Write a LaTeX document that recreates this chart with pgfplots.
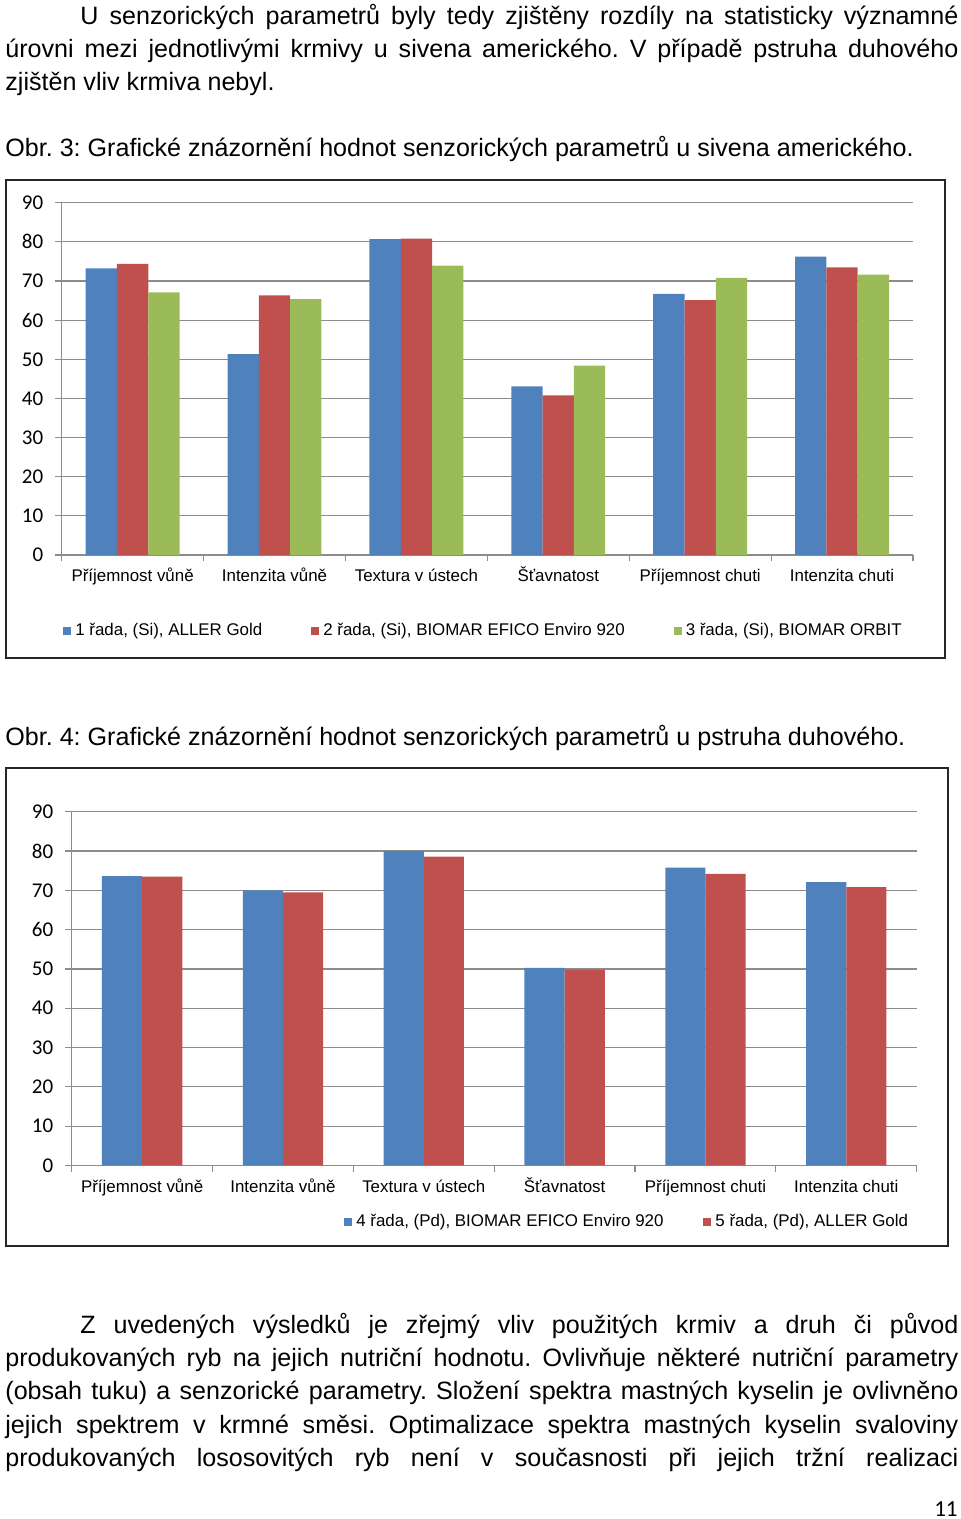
\documentclass[border=0pt]{standalone}
\usepackage{fontspec}
\setmainfont{Liberation Sans}
\newfontfamily\calibri{Carlito}
\usepackage{pgfplots}
\pgfplotsset{compat=1.18}
\definecolor{sblue}{HTML}{4F81BD}
\definecolor{sred}{HTML}{C0504D}
\definecolor{sgreen}{HTML}{9BBB59}
\definecolor{gridgray}{HTML}{8C8C8C}
\newcommand\bodyfont{\fontsize{12.55pt}{15pt}\selectfont}
\newcommand\chartfont{\fontsize{8.45pt}{10pt}\selectfont}
\frenchspacing

\pgfplotstableread{
x blue red green
0 73.2 74.4 67.1
1 51.3 66.3 65.4
2 80.7 80.8 73.9
3 43.1 40.8 48.4
4 66.7 65.1 70.8
5 76.2 73.5 71.6
}\siven
\pgfplotstableread{
x blue red
0 73.6 73.5
1 70.0 69.5
2 80.0 78.6
3 50.25 49.8
4 75.8 74.2
5 72.1 70.8
}\pstruh

\pgfplotsset{
 mychart/.style={
  scale only axis,
  ybar=0pt,
  ymin=0, ymax=90, ytick={0,10,...,90},
  xmin=-0.5, xmax=5.5,
  xtick={-0.5,0.5,1.5,2.5,3.5,4.5,5.5},
  xticklabels={},
  extra x ticks={0,1,2,3,4,5},
  extra x tick labels={Příjemnost vůně, Intenzita vůně, Textura v ústech, Šťavnatost, Příjemnost chuti, Intenzita chuti},
  extra x tick style={tick style={draw=none}},
  axis x line*=bottom, axis y line*=left,
  axis line style={gridgray, line width=0.6pt, -},
  ymajorgrids, grid style={gridgray, line width=0.6pt},
  tick align=outside,
  tick style={gridgray, line width=0.6pt},
  major tick length=3.2pt,
  /pgf/number format/assume math mode=true,
  yticklabel style={font=\calibri\fontsize{10.5pt}{12pt}\selectfont, xshift=-2.5pt},
  xticklabel style={font=\chartfont, anchor=north, text height=6.2pt, text depth=1.8pt, yshift=-0.5pt},
  legend columns=-1,
  legend image code/.code={\fill[##1,draw=none] (0pt,-2pt) rectangle (4pt,2pt);},
  legend style={draw=none, fill=none, inner sep=0pt, font=\chartfont},
 }
}

\begin{document}
\begin{tikzpicture}[x=0.5pt,y=0.5pt]
\path[use as bounding box] (0,0) rectangle (960,-1519);
% top paragraph
\node[anchor=base west, inner sep=0pt, font=\bodyfont] at (80,-25) {\makebox[439pt][s]{U senzorických parametrů byly tedy zjištěny rozdíly na statisticky významné}};
\node[anchor=base west, inner sep=0pt, font=\bodyfont] at (5,-58) {\makebox[476.5pt][s]{úrovni mezi jednotlivými krmivy u sivena amerického. V případě pstruha duhového}};
\node[anchor=base west, inner sep=0pt, font=\bodyfont] at (5,-91) {zjištěn vliv krmiva nebyl.};
\node[anchor=base west, inner sep=0pt, font=\bodyfont] at (5,-157) {Obr. 3: Grafické znázornění hodnot senzorických parametrů u sivena amerického.};
\node[anchor=base west, inner sep=0pt, font=\bodyfont] at (5,-745) {Obr. 4: Grafické znázornění hodnot senzorických parametrů u pstruha duhového.};
% bottom paragraph
\node[anchor=base west, inner sep=0pt, font=\bodyfont] at (80,-1333) {\makebox[439pt][s]{Z~uvedených výsledků je zřejmý vliv použitých krmiv a druh či původ}};
\node[anchor=base west, inner sep=0pt, font=\bodyfont] at (5,-1366) {\makebox[476.5pt][s]{produkovaných ryb na jejich nutriční hodnotu. Ovlivňuje některé nutriční parametry}};
\node[anchor=base west, inner sep=0pt, font=\bodyfont] at (5,-1399) {\makebox[476.5pt][s]{(obsah tuku) a senzorické parametry. Složení spektra mastných kyselin je ovlivněno}};
\node[anchor=base west, inner sep=0pt, font=\bodyfont] at (5,-1433) {\makebox[476.5pt][s]{jejich spektrem v krmné směsi. Optimalizace spektra mastných kyselin svaloviny}};
\node[anchor=base west, inner sep=0pt, font=\bodyfont] at (5,-1466) {\makebox[476.5pt][s]{produkovaných lososovitých ryb není v současnosti při jejich tržní realizaci}};
\node[anchor=base east, inner sep=0pt, font=\calibri\fontsize{11.5pt}{13pt}\selectfont] at (958,-1516) {11};
% frames
\draw[line width=1pt, black!85] (6,-180) rectangle (945,-658);
\draw[line width=1pt, black!85] (6,-768) rectangle (948,-1246);
\coordinate (A1) at (61.7,-555);
\coordinate (A2) at (71.7,-1165.4);

\begin{axis}[mychart, at={(A1)}, anchor=south west,
  width=425.65pt, height=176.15pt, bar width=15.65pt,
  legend style={at={(0.0015,-0.2157)}, anchor=west,
     /tikz/every even column/.append style={column sep=22.5pt}}]
\addplot[fill=sblue, draw=none] table[x=x, y=blue] {\siven};
\addplot[fill=sred, draw=none] table[x=x, y=red] {\siven};
\addplot[fill=sgreen, draw=none] table[x=x, y=green] {\siven};
\legend{{1 řada, (Si), ALLER Gold}, {2 řada, (Si), BIOMAR EFICO Enviro 920}, {3 řada, (Si), BIOMAR ORBIT}}
\end{axis}

\begin{axis}[mychart, at={(A2)}, anchor=south west,
  width=422.5pt, height=176.85pt, bar width=20.1pt,
  legend style={at={(0.3222,-0.16)}, anchor=west,
     /tikz/every even column/.append style={column sep=18pt}}]
\addplot[fill=sblue, draw=none] table[x=x, y=blue] {\pstruh};
\addplot[fill=sred, draw=none] table[x=x, y=red] {\pstruh};
\legend{{4 řada, (Pd), BIOMAR EFICO Enviro 920}, {5 řada, (Pd), ALLER Gold}}
\end{axis}
\end{tikzpicture}
\end{document}
